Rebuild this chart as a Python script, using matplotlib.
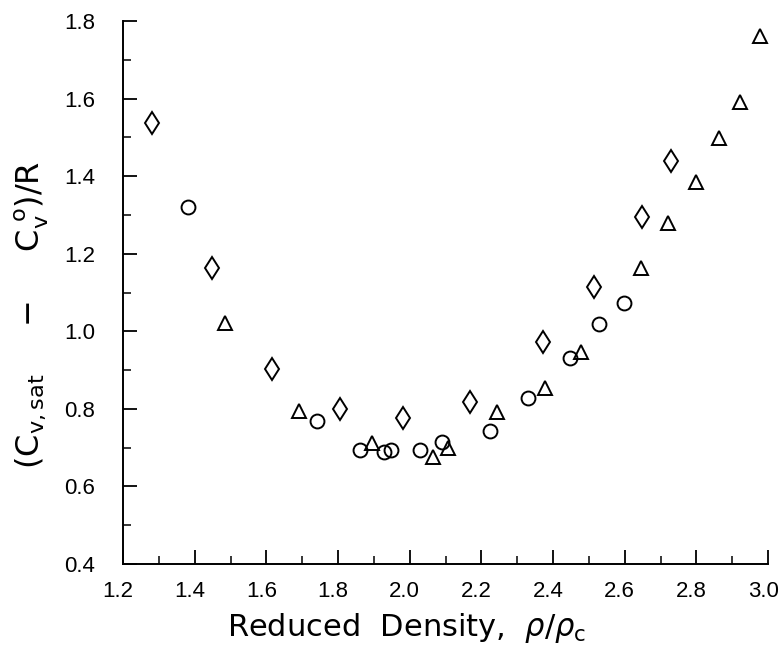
import matplotlib
matplotlib.use("Agg")
import matplotlib.pyplot as plt
import matplotlib.transforms as mtransforms
from matplotlib.ticker import MultipleLocator

plt.rcParams['font.family'] = ['Liberation Sans', 'DejaVu Sans']
plt.rcParams['mathtext.fontset'] = 'dejavusans'

# data
diamond_x = [1.282, 1.447, 1.617, 1.805, 1.982, 2.168, 2.373, 2.514, 2.648, 2.729]
diamond_y = [1.537, 1.162, 0.904, 0.799, 0.777, 0.817, 0.973, 1.115, 1.295, 1.439]

circle_x = [1.381, 1.741, 1.860, 1.928, 1.949, 2.030, 2.089, 2.225, 2.331, 2.448, 2.528, 2.599]
circle_y = [1.321, 0.768, 0.694, 0.690, 0.694, 0.694, 0.714, 0.743, 0.827, 0.932, 1.019, 1.073]

tri_x = [1.485, 1.692, 1.896, 2.064, 2.108, 2.243, 2.377, 2.477, 2.646, 2.720, 2.798, 2.863, 2.921, 2.978]
tri_y = [1.022, 0.795, 0.711, 0.675, 0.698, 0.791, 0.855, 0.946, 1.164, 1.278, 1.385, 1.499, 1.592, 1.762]

fig = plt.figure(figsize=(7.81, 6.48), dpi=100)
ax = fig.add_axes([0.1575, 0.1296, 0.826, 0.838])

ax.plot(diamond_x, diamond_y, 'd', ms=11.5, mfc='white', mec='black', mew=1.4, ls='none')
ax.plot(circle_x, circle_y, 'o', ms=10, mfc='none', mec='black', mew=1.4, ls='none')
ax.plot(tri_x, tri_y, '^', ms=9.5, mfc='none', mec='black', mew=1.4, ls='none')

ax.set_xlim(1.2, 3.0)
ax.set_ylim(0.4, 1.8)
ax.xaxis.set_major_locator(MultipleLocator(0.2))
ax.xaxis.set_minor_locator(MultipleLocator(0.1))
ax.yaxis.set_major_locator(MultipleLocator(0.2))
ax.yaxis.set_minor_locator(MultipleLocator(0.1))
ax.xaxis.set_major_formatter(lambda v, p: f"{v:.1f}")
ax.yaxis.set_major_formatter(lambda v, p: f"{v:.1f}")

for s in ['top', 'right']:
    ax.spines[s].set_visible(False)
for s in ['left', 'bottom']:
    ax.spines[s].set_linewidth(1.4)

ax.tick_params(which='major', direction='in', length=10, width=1.3, labelsize=16, pad=12)
ax.tick_params(which='minor', direction='in', length=6, width=1.1)
ax.tick_params(axis='y', which='major', pad=20)

# x tick labels sit a little left of their ticks in the original
shift = mtransforms.ScaledTranslation(-5 / 100, 0, fig.dpi_scale_trans)
for lab in ax.get_xticklabels():
    lab.set_transform(lab.get_transform() + shift)

ax.set_xlabel(r'Reduced  Density,  $\rho/\rho_{\rm c}$', fontsize=22,
              family='DejaVu Sans')
ax.set_ylabel(r'$(\rm C_{v,sat}\quad\ -\quad\ C_v^{\ o})/R$', fontsize=23,
              family='DejaVu Sans')
ax.xaxis.set_label_coords(0.439, -0.118)
ax.xaxis.label.set_va('center')
ax.yaxis.set_label_coords(-0.141, 0.459)
ax.yaxis.label.set_va('center')

fig.savefig('out.png', dpi=100)
